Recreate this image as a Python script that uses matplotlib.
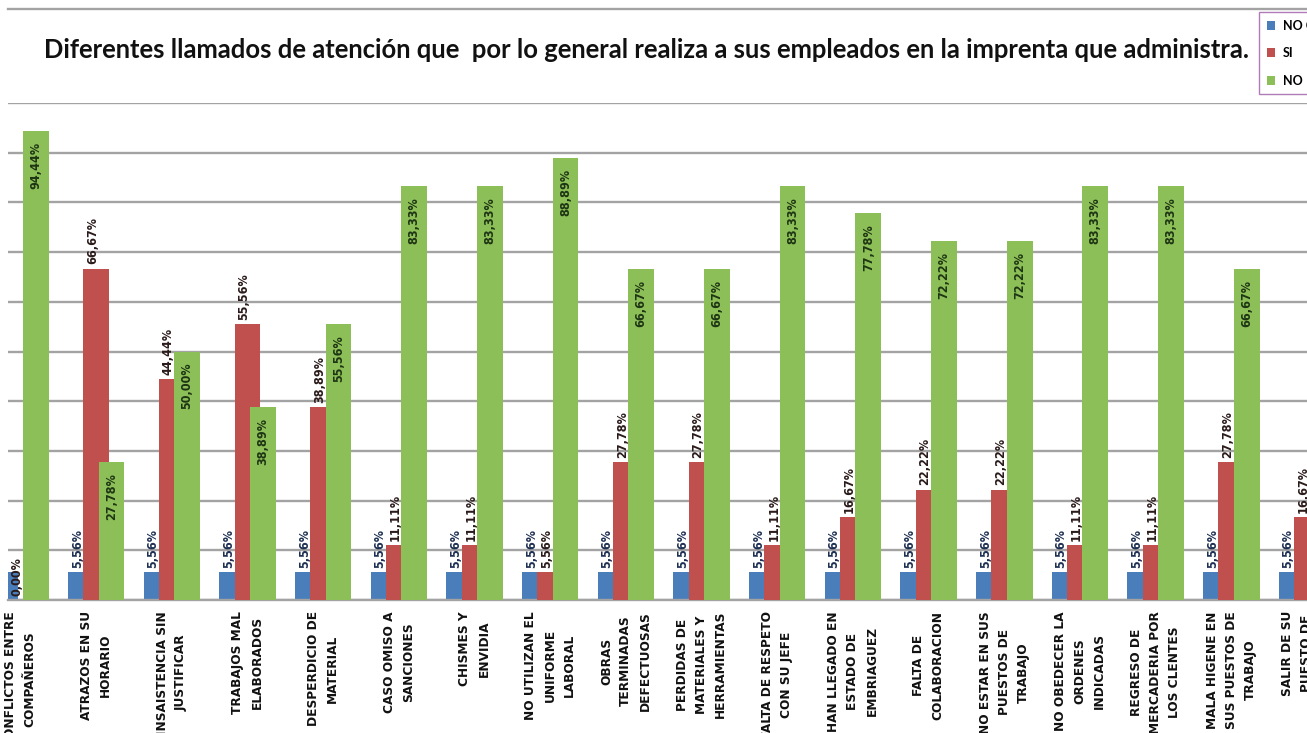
import matplotlib
matplotlib.use("Agg")
import matplotlib.pyplot as plt
from matplotlib import font_manager as fm
from matplotlib.lines import Line2D
from matplotlib.patches import Patch
import numpy as np

# ---- data -------------------------------------------------------------
categories = [
    "CONFLICTOS ENTRE\nCOMPAÑEROS",
    "ATRAZOS EN SU\nHORARIO",
    "INSAISTENCIA SIN\nJUSTIFICAR",
    "TRABAJOS MAL\nELABORADOS",
    "DESPERDICIO DE\nMATERIAL",
    "CASO OMISO A\nSANCIONES",
    "CHISMES Y\nENVIDIA",
    "NO UTILIZAN EL\nUNIFORME\nLABORAL",
    "OBRAS\nTERMINADAS\nDEFECTUOSAS",
    "PERDIDAS DE\nMATERIALES Y\nHERRAMIENTAS",
    "FALTA DE RESPETO\nCON SU JEFE",
    "HAN LLEGADO EN\nESTADO DE\nEMBRIAGUEZ",
    "FALTA DE\nCOLABORACION",
    "NO ESTAR EN SUS\nPUESTOS DE\nTRABAJO",
    "NO OBEDECER LA\nORDENES\nINDICADAS",
    "REGRESO DE\nMERCADERIA POR\nLOS CLENTES",
    "MALA HIGENE EN\nSUS PUESTOS DE\nTRABAJO",
    "SALIR DE SU\nPUESTO DE\nTRABAJO",
]
no_contesta = [5.56, 5.56, 5.56, 5.56, 5.56, 5.56, 5.56, 5.56, 5.56,
               5.56, 5.56, 5.56, 5.56, 5.56, 5.56, 5.56, 5.56, 5.56]
si = [0.00, 66.67, 44.44, 55.56, 38.89, 11.11, 11.11, 5.56, 27.78,
      27.78, 11.11, 16.67, 22.22, 22.22, 11.11, 11.11, 27.78, 16.67]
no = [94.44, 27.78, 50.00, 38.89, 55.56, 83.33, 83.33, 88.89, 66.67,
      66.67, 83.33, 77.78, 72.22, 72.22, 83.33, 83.33, 66.67, 77.78]
series_names = ["NO CONTESTA", "SI", "NO"]
title = ("Diferentes llamados de atención que  por lo general realiza "
         "a sus empleados en la imprenta que administra.")

# ---- style ------------------------------------------------------------
colors = ["#4a7ebb", "#c0504d", "#8dbf58"]
label_colors = ["#1d2f52", "#2a1a1a", "#1e3514"]
grid_color = "#a3a3a3"

available = {f.name for f in fm.fontManager.ttflist}
title_font = "Lato" if "Lato" in available else "DejaVu Sans"


def narrow_bold_file():
    """Locate a condensed/narrow bold face among the installed fonts."""
    paths = [f.fname for f in fm.fontManager.ttflist]
    for key in ("LiberationSansNarrow-Bold.", "DejaVuSansCondensed-Bold.",
                "OpenSans_Condensed-Bold", "OpenSansCondensed-Bold",
                "RobotoCondensed-Bold"):
        for p in paths:
            if key in p.replace(" ", ""):
                return p
    for p in paths:
        low = p.lower()
        if ("condensed" in low or "narrow" in low) and "bold" in low and "italic" not in low:
            return p
    return None


narrow_path = narrow_bold_file()


def narrow_prop(size):
    if narrow_path:
        return fm.FontProperties(fname=narrow_path, size=size)
    return fm.FontProperties(family="DejaVu Sans", weight="bold",
                             stretch="condensed", size=size * 0.9)


W, H = 1307, 733
fig = plt.figure(figsize=(W / 100, H / 100), dpi=100)
fig.patch.set_facecolor("white")

# plot area: left 8 px, right at the figure edge, baseline y=600, 100% at y=103
ax = fig.add_axes([8 / W, (H - 600) / H, 1 - 8 / W, (600 - 103) / H])

x = np.arange(len(categories))
width = 0.341
step = 0.203
series = [no_contesta, si, no]
offsets = [-step, 0.0, step]

for i, (vals, off) in enumerate(zip(series, offsets)):
    ax.bar(x + off, vals, width=width, color=colors[i], zorder=2 + i,
           label=series_names[i], linewidth=0)


def fmt(v):
    return f"{v:.2f}".replace(".", ",") + "%"


for i, (vals, off) in enumerate(zip(series, offsets)):
    for xi, v in zip(x, vals):
        if i < 2:
            ax.annotate(fmt(v), (xi + off, v), xytext=(-2.5, 3),
                        textcoords="offset points", rotation=90,
                        ha="center", va="bottom", color=label_colors[i],
                        zorder=10, annotation_clip=False, clip_on=True,
                        fontproperties=narrow_prop(9))
        else:
            ax.annotate(fmt(v), (xi + off, v), xytext=(0, -8),
                        textcoords="offset points", rotation=90,
                        ha="center", va="top", color=label_colors[i],
                        zorder=10, annotation_clip=False, clip_on=True,
                        fontproperties=narrow_prop(9))

# axis ranges: first group partly hidden on the left
ax.set_xlim(-0.164, (W - 20.5) / 76.2)
ax.set_ylim(0, 100)
ax.set_yticks(np.arange(0, 101, 10))
ax.yaxis.grid(True, color=grid_color, linewidth=1.7, zorder=0)
ax.set_axisbelow(True)
ax.tick_params(axis="y", left=False, labelleft=False)
ax.tick_params(axis="x", length=0, pad=8)
for s in ["left", "right", "top"]:
    ax.spines[s].set_visible(False)
ax.spines["bottom"].set_color(grid_color)
ax.spines["bottom"].set_linewidth(1.7)

ax.set_xticks(x)
ax.set_xticklabels(categories, rotation=90, ha="center", va="top",
                   multialignment="center", linespacing=1.62,
                   fontproperties=narrow_prop(9.7), color="#111111")

# outer border line along the top of the chart
fig.add_artist(Line2D([8 / W, 1], [1 - 9 / H, 1 - 9 / H],
                      transform=fig.transFigure, color=grid_color,
                      linewidth=1.7))

# title, sized to span its box
t = fig.text(646 / W, 1 - 50 / H, title, ha="center", va="center",
             family=title_font, fontweight="bold", fontsize=15,
             color="#111111")
fig.canvas.draw()
tw = t.get_window_extent(fig.canvas.get_renderer()).width
t.set_fontsize(15 * 1213 / tw)

handles = [Patch(facecolor=c, edgecolor="none") for c in colors]
fig.legend(handles, series_names, loc="upper left",
           bbox_to_anchor=(1259 / W, 1 - 12 / H), borderaxespad=0,
           frameon=True, fancybox=False, edgecolor="#b07cb8", framealpha=1,
           handlelength=0.7, handleheight=0.7, handletextpad=0.6,
           labelspacing=1.25, borderpad=0.6,
           prop=dict(family=title_font, weight="bold", size=9))

fig.savefig("out.png", dpi=100)
